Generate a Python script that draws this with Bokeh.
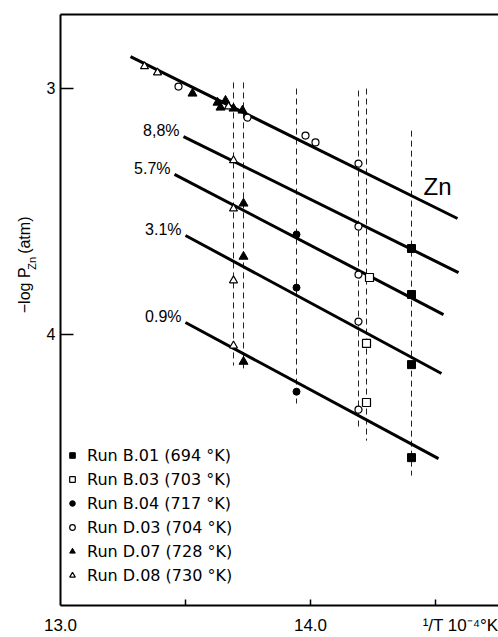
import math
from bokeh.plotting import figure
from bokeh.layouts import row
from bokeh.models import (Range1d, LinearAxis, FixedTicker, Label, Legend, LegendItem)
from bokeh.core.properties import value
from bokeh.embed import file_html
from bokeh.resources import INLINE

FONT = "Liberation Sans"
LFONT = "DejaVu Sans"

# ---- data series (x = 1/T * 1e4, y = -log P_Zn) ----
b01_x = [14.404, 14.404, 14.404, 14.404]
b01_y = [3.651, 3.838, 4.123, 4.501]

b03_x = [14.236, 14.224, 14.224]
b03_y = [3.769, 4.037, 4.277]

b04_x = [13.944, 13.944, 13.944]
b04_y = [3.594, 3.810, 4.233]

d03_x = [13.472, 13.748, 13.980, 14.020, 14.192, 14.192, 14.192, 14.192, 14.192]
d03_y = [2.993, 3.119, 3.192, 3.220, 3.306, 3.562, 3.757, 3.948, 4.306]

d07_x = [13.528, 13.628, 13.660, 13.640, 13.692, 13.728, 13.732, 13.732, 13.732]
d07_y = [3.021, 3.058, 3.050, 3.078, 3.082, 3.090, 3.468, 3.684, 4.111]

d08_x = [13.336, 13.388, 13.672, 13.692, 13.692, 13.692, 13.692]
d08_y = [2.911, 2.936, 3.074, 3.293, 3.489, 3.781, 4.046]

# ---- fitted lines ----
fit_labels = ["Zn", "8,8%", "5.7%", "3.1%", "0.9%"]
fit_x0 = [13.280, 13.492, 13.456, 13.500, 13.500]
fit_y0 = [2.871, 3.196, 3.350, 3.598, 3.952]
fit_x1 = [14.588, 14.592, 14.532, 14.524, 14.512]
fit_y1 = [3.529, 3.749, 3.920, 4.159, 4.505]

# ---- dashed verticals (isotherm runs) ----
vline_x = [13.692, 13.732, 13.944, 14.192, 14.224, 14.404]
vline_top = [2.976, 2.976, 3.001, 3.009, 3.001, 3.172]
vline_bot = [4.127, 4.139, 4.281, 4.379, 4.432, 4.574]

legend_labels = ["Run B.01 (694 °K)", "Run B.03 (703 °K)", "Run B.04 (717 °K)",
                 "Run D.03 (704 °K)", "Run D.07 (728 °K)", "Run D.08 (730 °K)"]

# x axis: labelled positions (no tick marks) and tick marks (inward)
x_label_pos = [13.0, 14.0, 14.638]
x_label_txt = ["13.0", "14.0", "¹/T 10⁻⁴°K"]
x_tick_marks = [13.5, 14.0, 14.5]
y_ticks = [3, 4]
y_title = ["−log P", "Zn", "(atm)"]

X0, X1 = 13.0, 14.752
Y0, Y1 = 5.102, 2.70

p = figure(width=458, height=637, x_range=Range1d(X0, X1), y_range=Range1d(Y0, Y1),
           output_backend="svg", toolbar_location=None,
           x_axis_location=None, y_axis_location=None,
           min_border_left=20, min_border_right=0, min_border_top=14, min_border_bottom=32)
p.grid.grid_line_color = None
p.outline_line_color = None
p.background_fill_color = "white"
p.border_fill_color = "white"

# axes
xaxis = LinearAxis(ticker=FixedTicker(ticks=x_label_pos, minor_ticks=x_tick_marks),
                   major_label_overrides=dict(zip(x_label_pos, x_label_txt)),
                   axis_line_width=2, axis_line_color="black",
                   major_tick_line_color=None, major_tick_in=0, major_tick_out=0,
                   minor_tick_in=6, minor_tick_out=0, minor_tick_line_width=1.5,
                   minor_tick_line_color="black",
                   major_label_standoff=10,
                   major_label_text_font=FONT, major_label_text_font_size="17px",
                   major_label_text_color="black")
p.add_layout(xaxis, "below")

yaxis = LinearAxis(ticker=FixedTicker(ticks=y_ticks),
                   axis_line_width=2, axis_line_color="black",
                   major_tick_in=13, major_tick_out=0, minor_tick_line_color=None,
                   major_tick_line_width=1.5,
                   major_label_standoff=5,
                   major_label_text_font=FONT, major_label_text_font_size="16px",
                   major_label_text_color="black")
p.add_layout(yaxis, "left")

top = LinearAxis(ticker=FixedTicker(ticks=[X0]), axis_line_width=2, axis_line_color="black",
                 major_label_overrides={X0: ""}, major_label_text_color=None,
                 major_label_text_font_size="1px", major_label_standoff=0,
                 minor_tick_line_color=None, major_tick_line_color=None)
p.add_layout(top, "above")

# dashed verticals
p.segment(x0=vline_x, y0=vline_top, x1=vline_x, y1=vline_bot,
          line_color="#222222", line_width=1, line_dash="6 4")

# fitted lines
p.segment(x0=fit_x0, y0=fit_y0, x1=fit_x1, y1=fit_y1, line_color="black", line_width=3)

# percentage labels near line starts
p.text(x=fit_x0[1:], y=fit_y0[1:], text=fit_labels[1:], x_offset=-4, y_offset=-6,
       text_align="right", text_baseline="middle", text_font=value(FONT),
       text_font_size="16px", text_color="black")

p.add_layout(Label(x=14.452, y=3.399, text=fit_labels[0], text_font=FONT,
                   text_font_size="24px", text_baseline="middle", text_align="left",
                   text_color="black"))

# data series
r1 = p.scatter(b01_x, b01_y, marker="square", size=8, fill_color="black", line_color="black")
r2 = p.scatter(b03_x, b03_y, marker="square", size=8, fill_color="white", line_color="black", line_width=1.2)
r3 = p.scatter(b04_x, b04_y, marker="circle", size=7, fill_color="black", line_color="black")
r4 = p.scatter(d03_x, d03_y, marker="circle", size=7, fill_color="white", line_color="black", line_width=1.2)
r5 = p.scatter(d07_x, d07_y, marker="triangle", size=9, fill_color="black", line_color="black")
r6 = p.scatter(d08_x, d08_y, marker="triangle", size=8, fill_color="white", line_color="black", line_width=1.2)

legend = Legend(items=[LegendItem(label=l, renderers=[r]) for l, r in
                       zip(legend_labels, [r1, r2, r3, r4, r5, r6])],
                location=(5, 18), border_line_color=None, background_fill_alpha=0,
                padding=0, margin=0, spacing=0, glyph_width=14, glyph_height=24,
                label_height=24, label_standoff=8, label_text_font=LFONT,
                label_text_font_size="16px", label_text_color="black")
p.add_layout(legend)

# narrow strip on the left holding the rotated y-axis title (pixel coordinates)
left = figure(width=40, height=637, x_range=Range1d(0, 40), y_range=Range1d(637, 0),
              output_backend="svg", toolbar_location=None,
              x_axis_location=None, y_axis_location=None, min_border=0)
left.grid.grid_line_color = None
left.outline_line_color = None
left.text(x=[24, 24], y=[322, 258], text=[y_title[0], y_title[2]], angle=math.pi / 2,
          text_align="left", text_baseline="middle", text_font=value(FONT),
          text_font_size="16px", text_color="black")
left.text(x=[31], y=[275], text=[y_title[1]], angle=math.pi / 2,
          text_align="left", text_baseline="middle", text_font=value(FONT),
          text_font_size="11px", text_color="black")

layout = row(left, p)
open("out.html", "w").write(file_html(layout, INLINE))
